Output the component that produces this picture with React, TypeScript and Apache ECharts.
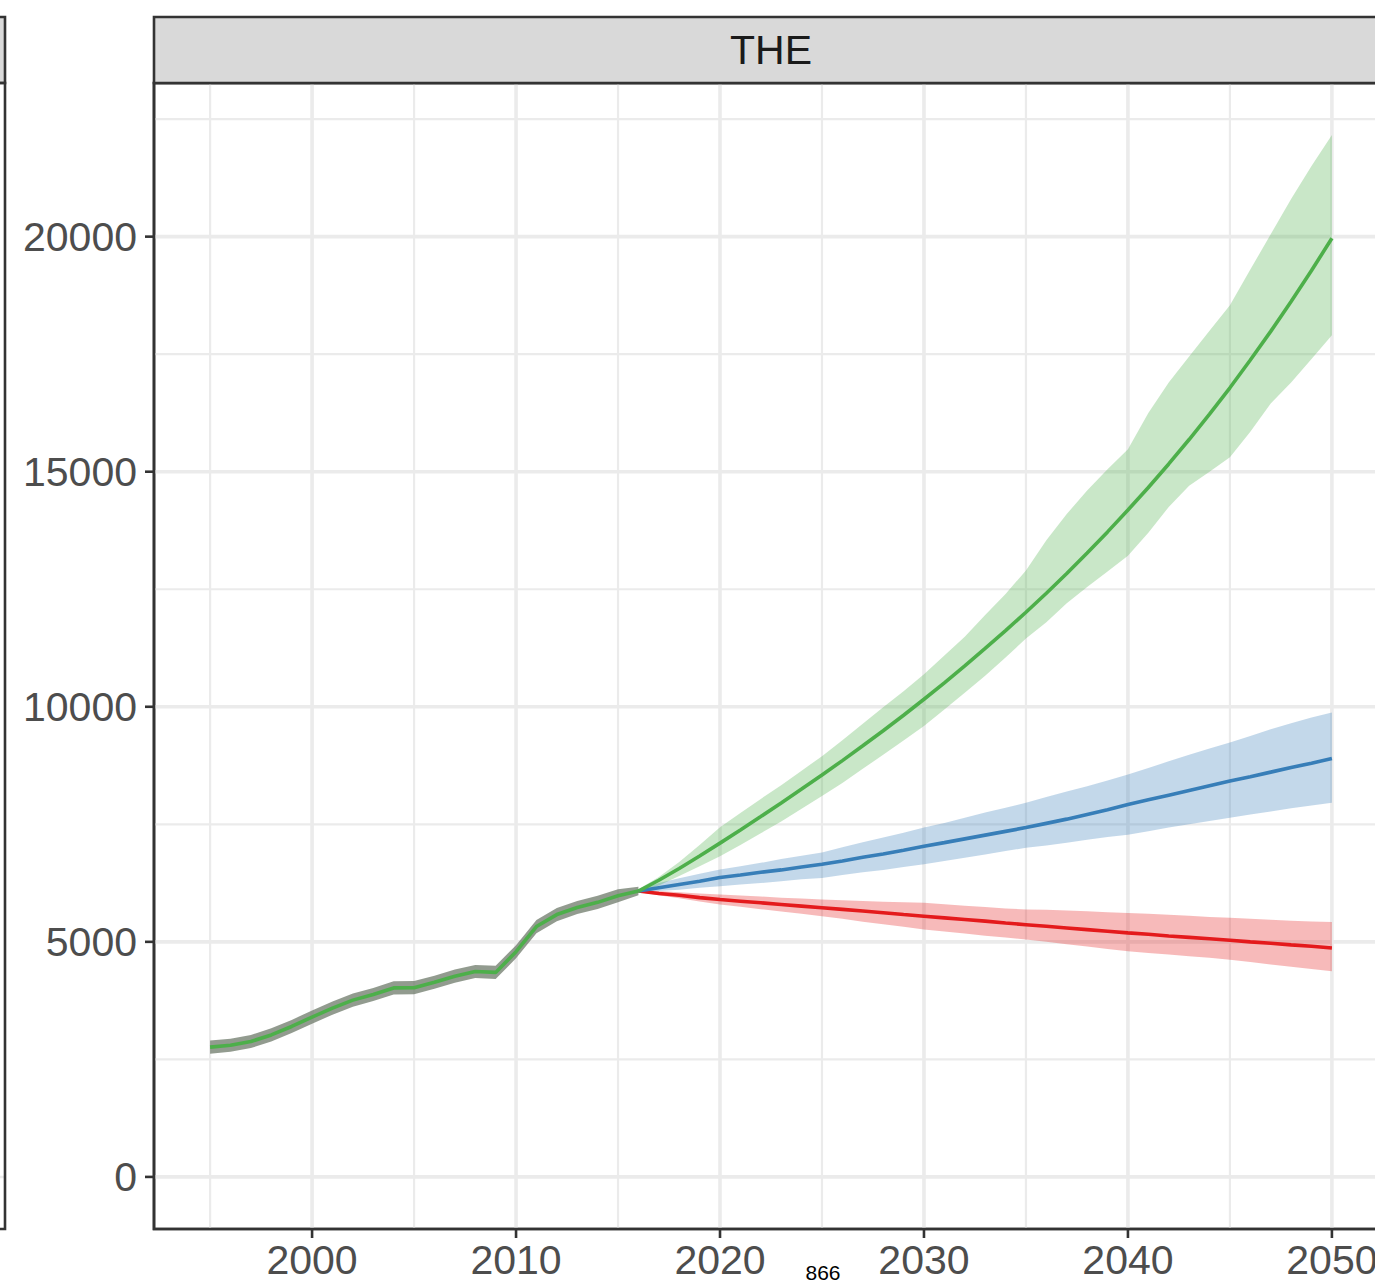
import React, { useEffect, useRef } from "react";
import * as echarts from "echarts";

// ---------- data ----------
const histYears = [1995, 1996, 1997, 1998, 1999, 2000, 2001, 2002, 2003, 2004, 2005, 2006, 2007, 2008, 2009, 2010, 2011, 2012, 2013, 2014, 2015, 2016];
const histValues = [2760, 2800, 2880, 3020, 3200, 3400, 3590, 3760, 3880, 4020, 4025, 4140, 4270, 4370, 4350, 4790, 5325, 5580, 5730, 5840, 5980, 6080];
const histLower = [2620, 2660, 2740, 2880, 3060, 3260, 3450, 3620, 3740, 3880, 3885, 4000, 4130, 4230, 4210, 4650, 5185, 5440, 5590, 5700, 5840, 5990];
const histUpper = [2900, 2940, 3020, 3160, 3340, 3540, 3730, 3900, 4020, 4160, 4165, 4280, 4410, 4510, 4490, 4930, 5465, 5720, 5870, 5980, 6120, 6170];

const projYears = [2016, 2017, 2018, 2019, 2020, 2021, 2022, 2023, 2024, 2025, 2026, 2027, 2028, 2029, 2030, 2031, 2032, 2033, 2034, 2035, 2036, 2037, 2038, 2039, 2040, 2041, 2042, 2043, 2044, 2045, 2046, 2047, 2048, 2049, 2050];

const greenValues = [6080, 6310, 6560, 6825, 7100, 7380, 7665, 7955, 8250, 8550, 8855, 9170, 9490, 9820, 10160, 10510, 10870, 11240, 11620, 12010, 12415, 12835, 13270, 13720, 14185, 14665, 15165, 15685, 16225, 16785, 17375, 17985, 18620, 19280, 19965];
const greenUpper = [6120, 6380, 6700, 7060, 7440, 7740, 8040, 8330, 8640, 8950, 9290, 9640, 9990, 10330, 10690, 11090, 11490, 11950, 12400, 12900, 13540, 14100, 14600, 15050, 15480, 16250, 16900, 17450, 18000, 18540, 19300, 20050, 20800, 21500, 22160];
const greenLower = [6040, 6200, 6400, 6610, 6820, 7060, 7310, 7560, 7830, 8100, 8380, 8680, 8980, 9280, 9590, 9940, 10300, 10660, 11050, 11450, 11800, 12200, 12550, 12880, 13210, 13700, 14250, 14700, 15000, 15310, 15850, 16450, 16900, 17400, 17900];

const blueValues = [6080, 6150, 6220, 6290, 6370, 6420, 6480, 6530, 6590, 6650, 6720, 6800, 6870, 6950, 7035, 7110, 7190, 7270, 7350, 7430, 7520, 7610, 7710, 7810, 7920, 8020, 8120, 8220, 8320, 8420, 8510, 8610, 8710, 8800, 8900];
const blueUpper = [6100, 6250, 6350, 6450, 6540, 6610, 6680, 6760, 6830, 6900, 7010, 7120, 7220, 7320, 7430, 7530, 7640, 7750, 7850, 7960, 8080, 8200, 8310, 8430, 8560, 8700, 8840, 8980, 9110, 9240, 9380, 9520, 9650, 9770, 9880];
const blueLower = [6060, 6080, 6110, 6150, 6180, 6220, 6250, 6290, 6330, 6360, 6420, 6480, 6530, 6590, 6650, 6720, 6790, 6860, 6930, 7000, 7050, 7110, 7170, 7230, 7280, 7350, 7430, 7500, 7570, 7640, 7710, 7770, 7840, 7900, 7960];

const redValues = [6080, 6030, 5990, 5940, 5900, 5865, 5830, 5795, 5760, 5725, 5690, 5655, 5620, 5580, 5545, 5510, 5475, 5440, 5400, 5365, 5330, 5295, 5260, 5225, 5190, 5160, 5125, 5095, 5065, 5035, 5000, 4970, 4935, 4905, 4870];
const redUpper = [6100, 6080, 6055, 6030, 6005, 5985, 5965, 5940, 5920, 5900, 5885, 5870, 5855, 5840, 5830, 5800, 5770, 5740, 5710, 5690, 5680, 5665, 5650, 5630, 5615, 5595, 5575, 5555, 5530, 5510, 5490, 5470, 5450, 5435, 5420];
const redLower = [6060, 5990, 5925, 5860, 5795, 5745, 5695, 5645, 5595, 5545, 5490, 5430, 5375, 5320, 5260, 5220, 5180, 5130, 5090, 5050, 5000, 4950, 4900, 4850, 4800, 4765, 4730, 4695, 4660, 4620, 4570, 4520, 4470, 4420, 4375];

const yTicks = [0, 5000, 10000, 15000, 20000];
const yMinorTicks = [2500, 7500, 12500, 17500, 22500];
const xTicks = [2000, 2010, 2020, 2030, 2040, 2050];
const xMinorTicks = [1995, 2005, 2015, 2025, 2035, 2045];

const stripTitle = "THE";
const footNote = "866";

// ---------- layout / style ----------
const W = 1375;
const H = 1288;
const CANVAS_W = 1420;
const GRID_LEFT = 154;
const GRID_TOP = 83;
const GRID_W = 1234;
const GRID_H = 1146;
const X_MIN = 1992.25;
const X_MAX = 2052.75;
const Y_MIN = -1108;
const Y_MAX = 23268;
const TICK_LEN = 9;
const FONT = "'Liberation Sans', Arial, Helvetica, sans-serif";
const DARK = "#333333";
const GRID_COLOR = "#ebebeb";

function pairs(xs: number[], ys: number[]) {
  return xs.map((x, i) => [x, ys[i]]);
}

function bandSeries(xs: number[], lo: number[], hi: number[], fill: string, z: number) {
  return {
    type: "custom",
    coordinateSystem: "cartesian2d",
    silent: true,
    z,
    data: xs.map((x, i) => [x, lo[i], hi[i]]),
    encode: { x: 0, y: [1, 2] },
    renderItem: (params: any, api: any) => {
      if (params.dataIndex !== 0) return null;
      const top = xs.map((x, i) => api.coord([x, hi[i]]));
      const bottom = xs.map((x, i) => api.coord([x, lo[i]])).reverse();
      return {
        type: "polygon",
        shape: { points: top.concat(bottom) },
        style: { fill },
      };
    },
  };
}

function gridSeries(values: number[], vertical: boolean, width: number) {
  return {
    type: "custom",
    coordinateSystem: "cartesian2d",
    silent: true,
    z: 1,
    data: values.map((v) => [v]),
    encode: vertical ? { x: 0 } : { y: 0 },
    renderItem: (params: any, api: any) => {
      const v = values[params.dataIndex];
      const p1 = vertical ? api.coord([v, Y_MIN]) : api.coord([X_MIN, v]);
      const p2 = vertical ? api.coord([v, Y_MAX]) : api.coord([X_MAX, v]);
      return {
        type: "line",
        shape: { x1: p1[0], y1: p1[1], x2: p2[0], y2: p2[1] },
        style: { stroke: GRID_COLOR, lineWidth: width },
      };
    },
  };
}

function tickSeries(values: number[], vertical: boolean) {
  return {
    type: "custom",
    coordinateSystem: "cartesian2d",
    silent: true,
    clip: false,
    z: 8,
    data: values.map((v) => [v]),
    encode: vertical ? { x: 0 } : { y: 0 },
    renderItem: (params: any, api: any) => {
      const v = values[params.dataIndex];
      const p = vertical ? api.coord([v, Y_MIN]) : api.coord([X_MIN, v]);
      const shape = vertical
        ? { x1: p[0], y1: p[1], x2: p[0], y2: p[1] + TICK_LEN }
        : { x1: p[0] - TICK_LEN, y1: p[1], x2: p[0], y2: p[1] };
      return {
        type: "line",
        shape,
        style: { stroke: DARK, lineWidth: 2.6 },
      };
    },
  };
}

function lineSeries(xs: number[], ys: number[], color: string, z: number) {
  return {
    type: "line",
    data: pairs(xs, ys),
    showSymbol: false,
    symbol: "none",
    silent: true,
    z,
    lineStyle: { color, width: 3.6 },
    itemStyle: { color },
  };
}

export default function App() {
  const ref = useRef<HTMLDivElement>(null);

  useEffect(() => {
    if (!ref.current) return;
    const chart = echarts.init(ref.current, null, { renderer: "svg" });
    const option: any = {
      animation: false,
      backgroundColor: "#ffffff",
      grid: {
        left: GRID_LEFT,
        top: GRID_TOP,
        width: GRID_W,
        height: GRID_H,
        show: true,
        backgroundColor: "#ffffff",
        borderColor: DARK,
        borderWidth: 2.6,
        containLabel: false,
      },
      xAxis: {
        type: "value",
        min: X_MIN,
        max: X_MAX,
        axisLine: { show: false },
        splitLine: { show: false },
        axisTick: { show: false },
        axisLabel: {
          customValues: xTicks,
          formatter: (v: number) => String(v),
          fontSize: 41,
          fontFamily: FONT,
          color: "#4d4d4d",
          margin: 10,
        },
      },
      yAxis: {
        type: "value",
        min: Y_MIN,
        max: Y_MAX,
        axisLine: { show: false },
        splitLine: { show: false },
        axisTick: { show: false },
        axisLabel: {
          customValues: yTicks,
          formatter: (v: number) => String(v),
          fontSize: 41,
          fontFamily: FONT,
          color: "#4d4d4d",
          margin: 17,
        },
      },
      graphic: [
        // panel border on top of the grid lines
        {
          type: "rect",
          shape: { x: GRID_LEFT, y: GRID_TOP, width: GRID_W, height: GRID_H },
          style: { fill: "none", stroke: DARK, lineWidth: 2.6 },
          z: 10,
        },
        {
          type: "rect",
          shape: { x: GRID_LEFT, y: 17, width: GRID_W, height: GRID_TOP - 17 },
          style: { fill: "#d9d9d9", stroke: DARK, lineWidth: 2.6 },
          z: 10,
        },
        {
          type: "text",
          x: GRID_LEFT + GRID_W / 2,
          y: 50,
          style: {
            text: stripTitle,
            fontSize: 41,
            fontFamily: FONT,
            fill: "#1a1a1a",
            align: "center",
            verticalAlign: "middle",
          },
          z: 11,
        },
        {
          type: "rect",
          shape: { x: -100, y: 17, width: 105, height: GRID_TOP - 17 },
          style: { fill: "#d9d9d9", stroke: DARK, lineWidth: 2.6 },
          z: 10,
        },
        {
          type: "line",
          shape: { x1: -10, y1: 1177, x2: 4, y2: 1177 },
          style: { stroke: GRID_COLOR, lineWidth: 2.5 },
          z: 9,
        },
        {
          type: "rect",
          shape: { x: -100, y: GRID_TOP, width: 105, height: GRID_H },
          style: { fill: "none", stroke: DARK, lineWidth: 2.6 },
          z: 10,
        },
        {
          type: "text",
          x: 823,
          y: 1272,
          style: {
            text: footNote,
            fontSize: 21,
            fontFamily: FONT,
            fill: "#000000",
            align: "center",
            verticalAlign: "middle",
          },
          z: 11,
        },
      ],
      series: [
        gridSeries(xMinorTicks, true, 2.2),
        gridSeries(yMinorTicks, false, 2.2),
        gridSeries(xTicks, true, 3.6),
        gridSeries(yTicks, false, 3.6),
        bandSeries(projYears, redLower, redUpper, "rgba(228,26,28,0.3)", 3),
        bandSeries(projYears, blueLower, blueUpper, "rgba(55,126,184,0.3)", 3),
        bandSeries(projYears, greenLower, greenUpper, "rgba(77,175,74,0.3)", 3),
        bandSeries(histYears, histLower, histUpper, "rgba(110,122,106,0.75)", 4),
        lineSeries(projYears, redValues, "#e41a1c", 5),
        lineSeries(projYears, blueValues, "#377eb8", 5),
        lineSeries(projYears, greenValues, "#4daf4a", 5),
        lineSeries(histYears, histValues, "#4daf4a", 5),
        tickSeries(xTicks, true),
        tickSeries(yTicks, false),
      ],
    };
    chart.setOption(option);
    return () => chart.dispose();
  }, []);

  return (
    <div style={{ position: "absolute", left: 0, top: 0, width: W, height: H, overflow: "hidden" }}>
      <div ref={ref} style={{ width: CANVAS_W, height: H }} />
    </div>
  );
}
